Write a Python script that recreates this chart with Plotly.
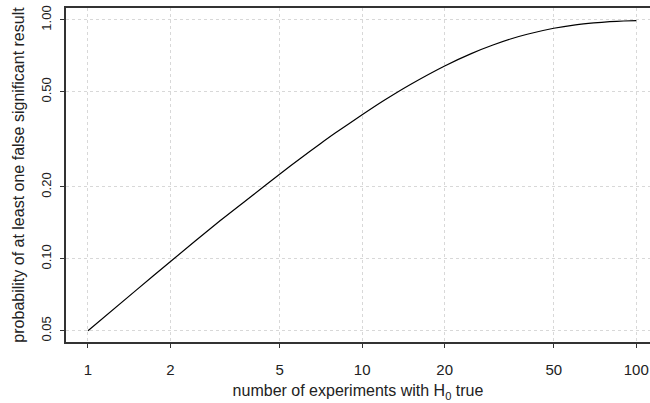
import plotly.graph_objects as go

# values
n_experiments = [1, 1.5, 2, 3, 4, 5, 6, 7, 8, 10, 12, 15, 20, 25, 30, 35, 40, 50, 60, 70, 80, 90, 100]
prob_false = [0.050, 0.074, 0.0975, 0.143, 0.185, 0.226, 0.265, 0.302, 0.337, 0.401, 0.460,
              0.537, 0.642, 0.723, 0.785, 0.834, 0.871, 0.923, 0.954, 0.972, 0.983, 0.990, 0.994]

x_ticks = [1, 2, 5, 10, 20, 50, 100]
x_tick_labels = ["1", "2", "5", "10", "20", "50", "100"]
y_ticks = [0.05, 0.10, 0.20, 0.50, 1.00]
y_tick_labels = ["0.05", "0.10", "0.20", "0.50", "1.00"]

fig = go.Figure()
fig.add_trace(go.Scatter(x=n_experiments, y=prob_false, mode="lines",
                         line=dict(color="black", width=1.2, shape="spline", smoothing=0.6),
                         showlegend=False, hoverinfo="skip"))

font = dict(family="Liberation Sans, Arial, Helvetica, sans-serif", size=14, color="#222")

fig.update_layout(
    width=650, height=403,
    margin=dict(l=66, r=0, t=8, b=61),
    paper_bgcolor="white", plot_bgcolor="white",
    font=font,
    xaxis=dict(type="log", range=[-0.0802, 2.05], automargin=False,
               tickvals=x_ticks, ticktext=x_tick_labels,
               ticks="outside", ticklen=4, tickcolor="#333", tickwidth=1,
               ticklabelstandoff=9, ticklabeloverflow="allow",
               showline=True, linecolor="#333", linewidth=2, mirror=True,
               showgrid=True, gridcolor="#d8d8d8", griddash="dot", gridwidth=1,
               zeroline=False,
               title=dict(text="number of experiments with H<sub>0</sub> true", standoff=8,
                          font=dict(size=16)),
               tickfont=dict(size=15)),
    yaxis=dict(type="log", range=[-1.348, 0.050], automargin=False,
               tickvals=y_ticks, ticktext=y_tick_labels, tickangle=-90,
               ticks="outside", ticklen=4, tickcolor="#333", tickwidth=1,
               ticklabelstandoff=4, ticklabeloverflow="allow",
               showline=True, linecolor="#333", linewidth=2, mirror=False,
               showgrid=True, gridcolor="#d8d8d8", griddash="dot", gridwidth=1,
               zeroline=False,
               title=dict(text="probability of at least one false significant result", standoff=10,
                          font=dict(size=16)),
               tickfont=dict(size=13)),
)

fig.write_html("out.html", config={"displayModeBar": False},
               post_script="document.body.style.margin='0';")
